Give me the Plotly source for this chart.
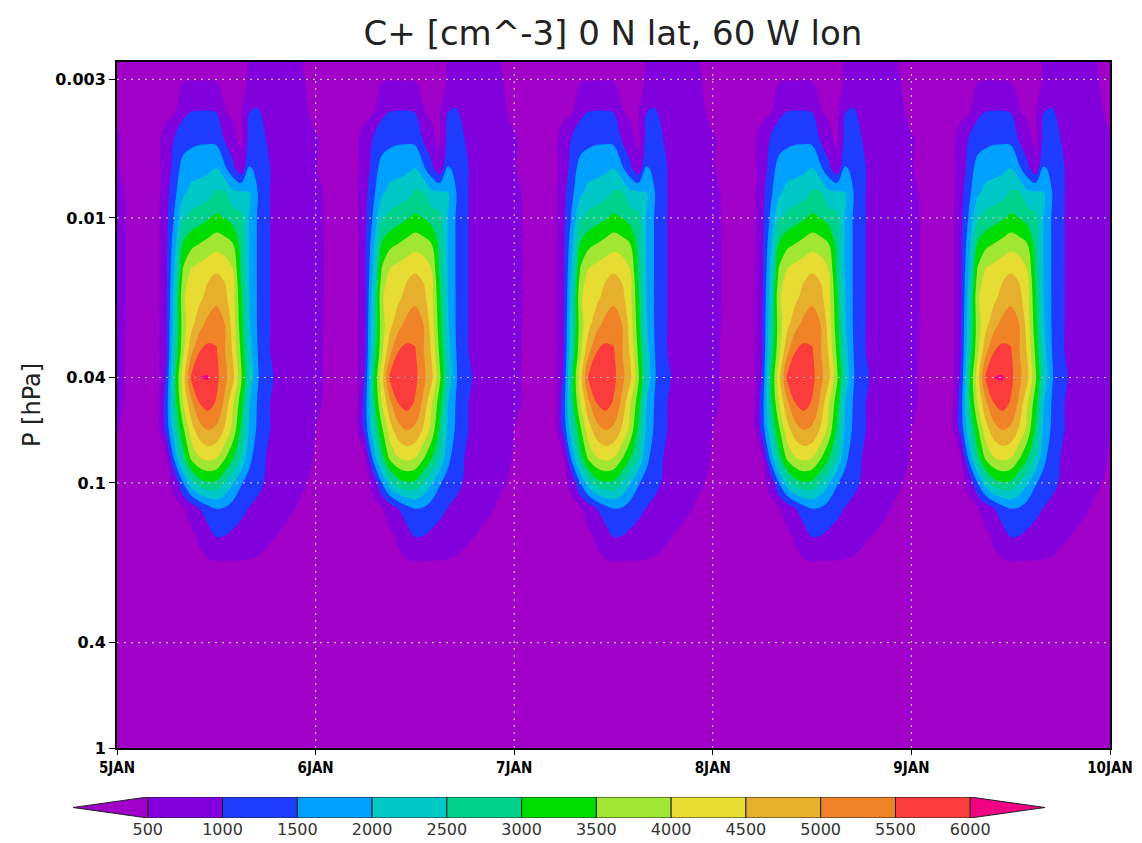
import math
import plotly.graph_objects as go

TITLE = "C+ [cm^-3] 0 N lat, 60 W lon"
Y_TITLE = "P [hPa]"

# ---------------- data ----------------
# time axis: days after 5 JAN 00 UT
day_offsets = [0, 1, 2, 3, 4]
day_ticks = [0, 1, 2, 3, 4, 5]
day_labels = ["5JAN", "6JAN", "7JAN", "8JAN", "9JAN", "10JAN"]
hours_of_day = [0, 2, 4, 5, 6, 7, 8, 9, 10, 11, 12, 13, 14, 15, 16, 17, 18, 20, 22]

pressure_hpa = [0.0025, 0.003, 0.004, 0.005, 0.0065, 0.008, 0.01, 0.0125, 0.016,
                0.02, 0.025, 0.032, 0.04, 0.05, 0.063, 0.08, 0.1, 0.125, 0.16,
                0.2, 0.25, 0.4, 1.0]

# typical daily cycle of C+ [cm^-3] at each pressure level (values at hours_of_day)
c_p0025 = [400, 380, 380, 380, 380, 400, 420, 440, 450, 450, 440, 420, 420, 440, 520, 600, 650, 620, 520]
c_p003 = [420, 390, 380, 380, 390, 420, 460, 480, 480, 480, 470, 440, 430, 440, 520, 680, 720, 680, 540]
c_p004 = [430, 390, 380, 390, 420, 480, 900, 1020, 1030, 1030, 1000, 520, 450, 470, 1000, 1050, 900, 760, 600]
c_p005 = [520, 420, 380, 450, 650, 1050, 1250, 1350, 1400, 1400, 1350, 950, 600, 420, 1150, 1300, 1000, 800, 650]
c_p0065 = [510, 430, 400, 430, 700, 1250, 1700, 1800, 1850, 1900, 2000, 1600, 1150, 620, 1550, 1400, 1050, 850, 700]
c_p008 = [555, 430, 400, 430, 850, 1400, 1900, 2150, 2200, 2300, 2550, 2550, 2100, 2050, 2000, 1500, 1050, 850, 700]
c_p01 = [555, 440, 400, 430, 900, 1600, 2450, 2650, 2800, 2950, 3100, 3000, 2800, 2650, 1950, 1450, 1050, 850, 700]
c_p0125 = [555, 450, 400, 430, 950, 1850, 3050, 3350, 3500, 3650, 3800, 3700, 3500, 2800, 1950, 1450, 1050, 850, 700]
c_p016 = [555, 450, 400, 430, 950, 2100, 3600, 4100, 4250, 4400, 4480, 4400, 4050, 2900, 1950, 1450, 1050, 850, 700]
c_p02 = [555, 450, 400, 430, 950, 2300, 3950, 4200, 4400, 4650, 4850, 4650, 4200, 3100, 2000, 1450, 1050, 850, 700]
c_p025 = [555, 440, 400, 430, 1000, 2400, 3800, 4350, 4800, 5150, 5300, 5000, 4300, 3200, 2050, 1450, 1050, 850, 700]
c_p032 = [555, 430, 400, 430, 1000, 2600, 3900, 4900, 5500, 5650, 5550, 5050, 4450, 3400, 2200, 1500, 1050, 850, 700]
c_p04 = [555, 430, 400, 430, 1100, 2900, 4300, 5600, 6020, 6030, 5650, 5150, 4650, 3600, 2350, 1550, 1100, 880, 720]
c_p05 = [550, 420, 400, 430, 1300, 2800, 4000, 4900, 5500, 5700, 5450, 4900, 4050, 3250, 2000, 1450, 1050, 850, 700]
c_p063 = [500, 420, 400, 450, 1200, 2400, 3400, 4300, 4800, 5000, 4900, 4450, 3850, 2900, 1900, 1400, 1050, 850, 700]
c_p08 = [470, 420, 400, 400, 500, 1700, 2800, 3650, 4000, 4150, 4050, 3600, 3050, 2450, 1650, 1200, 1000, 850, 680]
c_p1 = [440, 410, 400, 380, 380, 650, 1500, 2300, 2800, 2950, 2900, 2500, 2050, 1550, 1300, 1150, 950, 750, 560]
c_p125 = [420, 400, 380, 360, 350, 380, 460, 700, 1000, 1300, 1500, 1450, 1250, 1120, 980, 850, 750, 600, 470]
c_p16 = [400, 380, 360, 350, 350, 360, 380, 420, 560, 750, 1000, 980, 900, 820, 750, 680, 560, 450, 420]
c_p2 = [380, 370, 350, 340, 340, 350, 360, 380, 420, 450, 470, 460, 460, 470, 460, 440, 420, 400, 390]
c_p25 = [360, 350, 340, 330, 330, 330, 340, 350, 370, 390, 400, 410, 410, 400, 390, 380, 370, 360, 360]
c_p4 = [320, 315, 310, 305, 305, 305, 310, 315, 325, 335, 340, 345, 345, 340, 335, 330, 325, 320, 320]
c_p1000 = [250, 250, 245, 245, 245, 245, 250, 255, 260, 265, 270, 270, 270, 265, 260, 258, 255, 252, 250]

daily_cycle = [c_p0025, c_p003, c_p004, c_p005, c_p0065, c_p008, c_p01, c_p0125, c_p016,
               c_p02, c_p025, c_p032, c_p04, c_p05, c_p063, c_p08, c_p1, c_p125, c_p16,
               c_p2, c_p25, c_p4, c_p1000]

# day-to-day peak values at 0.04 hPa (10 UT and 11 UT)
peak_10ut = [6020, 5900, 5930, 5910, 6010]
peak_11ut = [6030, 5920, 5950, 5930, 6040]

p_ticks = [0.003, 0.01, 0.04, 0.1, 0.4, 1]
p_tick_text = ["0.003", "0.01", "0.04", "0.1", "0.4", "1"]
p_top = 0.00258
p_bottom = 1.0

levels = [500, 1000, 1500, 2000, 2500, 3000, 3500, 4000, 4500, 5000, 5500, 6000]
level_colors = ["#A000C8", "#8200DC", "#1E3CFF", "#00A0FF", "#00C8C8", "#00D28C",
                "#00DC00", "#A0E632", "#E6DC32", "#E6AF2D", "#F08228", "#FA3C3C", "#F00082"]

# ---------------- build grid ----------------
x = [d + h / 24.0 for d in day_offsets for h in hours_of_day] + [day_ticks[-1]]
peak_row = pressure_hpa.index(0.04)
i10 = hours_of_day.index(10)
i11 = hours_of_day.index(11)
z = []
for r, row in enumerate(daily_cycle):
    zr = []
    for d in range(len(day_offsets)):
        vals = list(row)
        if r == peak_row:
            vals[i10] = peak_10ut[d]
            vals[i11] = peak_11ut[d]
        zr.extend(vals)
    zr.append(row[0])
    z.append(zr)

n = len(level_colors) - 1
colorscale = [[i / n, c] for i, c in enumerate(level_colors)]
step = levels[1] - levels[0]

fig = go.Figure()
fig.add_trace(go.Contour(
    x=x, y=pressure_hpa, z=z,
    contours=dict(start=levels[0], end=levels[-1], size=step, coloring="fill", showlines=False),
    line=dict(width=0), colorscale=colorscale, showscale=False, hoverinfo="skip",
))

grid_style = dict(color="#BDBDBD", width=1.2, dash="2px,5px")
for v in p_ticks[:-1]:
    fig.add_trace(go.Scatter(x=[day_ticks[0], day_ticks[-1]], y=[v, v], mode="lines",
                             line=grid_style, hoverinfo="skip", showlegend=False))
for d in day_ticks[1:-1]:
    fig.add_trace(go.Scatter(x=[d, d], y=[p_bottom, p_top], mode="lines",
                             line=grid_style, hoverinfo="skip", showlegend=False))

# ---------------- colour key ----------------
shapes = []
for i in range(len(levels) - 1):
    shapes.append(dict(type="rect", xref="x2", yref="y2", x0=levels[i], x1=levels[i + 1],
                       y0=0, y1=1, fillcolor=level_colors[i + 1],
                       line=dict(color="#222222", width=1)))
tip_lo = levels[0] - step
tip_hi = levels[-1] + step
shapes.append(dict(type="path", xref="x2", yref="y2",
                   path=f"M {levels[0]},0 L {tip_lo},0.5 L {levels[0]},1 Z",
                   fillcolor=level_colors[0], line=dict(color="#222222", width=1)))
shapes.append(dict(type="path", xref="x2", yref="y2",
                   path=f"M {levels[-1]},0 L {tip_hi},0.5 L {levels[-1]},1 Z",
                   fillcolor=level_colors[-1], line=dict(color="#222222", width=1)))

# page body adds an 8px margin; lay out the figure in page pixels minus that offset
OFF = 8
W, H = 1142 - OFF, 843 - OFF
ml, mr, mt, mb = 60 - OFF, 32, 62 - OFF, 25
pw, ph = W - ml - mr, H - mt - mb


def px(xpage):
    return (xpage - OFF - ml) / pw


def py(ypage):
    return (H - mb - (ypage - OFF)) / ph


tick_font_y = dict(family="DejaVu Sans", size=16, color="black", weight="bold")
tick_font_x = dict(family="DejaVu Sans Condensed, Liberation Sans Narrow, DejaVu Sans",
                   size=15, color="black", weight="bold")

fig.update_layout(
    width=W, height=H,
    margin=dict(l=ml, r=mr, t=mt, b=mb),
    paper_bgcolor="white", plot_bgcolor="white",
    showlegend=False,
    shapes=shapes,
    title=dict(text=TITLE, x=px(613), xref="paper", xanchor="center",
               y=1 - (33 - OFF) / H, yref="container", yanchor="middle",
               font=dict(family="DejaVu Sans", size=34, color="#222222")),
    xaxis=dict(domain=[px(117), 1], range=[day_ticks[0], day_ticks[-1]],
               tickvals=day_ticks, ticktext=day_labels, ticks="outside", ticklen=5,
               tickcolor="black", showline=True, mirror=True, linewidth=2, linecolor="black",
               showgrid=False, zeroline=False, tickfont=tick_font_x, automargin=False,
               anchor="y"),
    yaxis=dict(type="log", domain=[py(748), 1],
               range=[math.log10(p_bottom), math.log10(p_top)],
               tickvals=p_ticks, ticktext=p_tick_text, ticks="outside", ticklen=6,
               tickcolor="black", showline=True, mirror=True, linewidth=2, linecolor="black",
               showgrid=False, zeroline=False, tickfont=tick_font_y, automargin=False,
               anchor="x"),
    xaxis2=dict(domain=[px(73), px(1045)], range=[tip_lo, tip_hi],
                anchor="y2", tickvals=levels, ticktext=[str(v) for v in levels],
                ticks="", showline=False, showgrid=False, zeroline=False,
                tickfont=dict(family="DejaVu Sans", size=16, color="#333333"),
                automargin=False, fixedrange=True),
    yaxis2=dict(domain=[0, py(797)], range=[0, 1], anchor="x2", visible=False,
                fixedrange=True),
    annotations=[dict(text=Y_TITLE, xref="paper", yref="paper",
                      x=px(32), y=py(405), textangle=-90,
                      showarrow=False, xanchor="center", yanchor="middle",
                      font=dict(family="DejaVu Sans", size=24, color="#222222"))],
)

fig.write_html("out.html")
